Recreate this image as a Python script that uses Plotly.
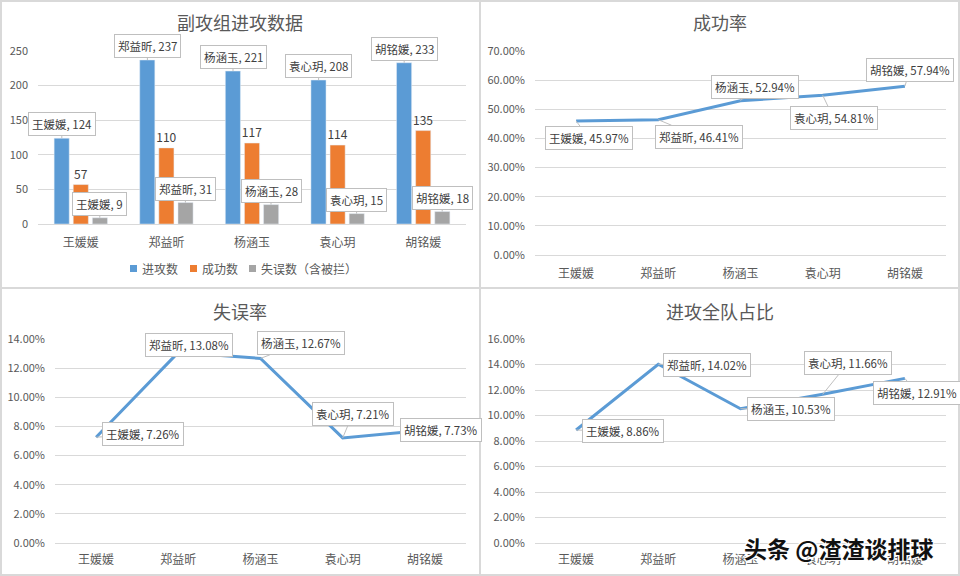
import plotly.graph_objects as go

players = ["王媛媛", "郑益昕", "杨涵玉", "袁心玥", "胡铭媛"]
attacks = [124, 237, 221, 208, 233]
successes = [57, 110, 117, 114, 135]
errors = [9, 31, 28, 15, 18]
success_rate = [45.97, 46.41, 52.94, 54.81, 57.94]
error_rate = [7.26, 13.08, 12.67, 7.21, 7.73]
attack_share = [8.86, 14.02, 10.53, 11.66, 12.91]

series_names = ["进攻数", "成功数", "失误数（含被拦）"]
titles = ["副攻组进攻数据", "成功率", "失误率", "进攻全队占比"]

FONT = "Noto Sans CJK SC, Microsoft YaHei, sans-serif"
BLUE, ORANGE, GRAY = "#5B9BD5", "#ED7D31", "#A5A5A5"
COLORS = [BLUE, ORANGE, GRAY]
TXT = "#595959"
GRID = "#d9d9d9"

W, H = 960, 576
def px(x): return x / W
def py(y): return 1 - y / H

fig = go.Figure()

# --- panel 1: grouped bars
fig.add_trace(go.Bar(x=players, y=attacks, name=series_names[0], marker_color=BLUE,
                     xaxis="x", yaxis="y"))
fig.add_trace(go.Bar(x=players, y=successes, name=series_names[1], marker_color=ORANGE,
                     texttemplate="%{y}", textposition="outside", constraintext="none",
                     textfont=dict(family=FONT, size=12, color="#404040"), cliponaxis=False,
                     xaxis="x", yaxis="y"))
fig.add_trace(go.Bar(x=players, y=errors, name=series_names[2], marker_color=GRAY,
                     xaxis="x", yaxis="y"))

# --- line panels
line_sets = [(success_rate, "x2", "y2"), (error_rate, "x3", "y3"), (attack_share, "x4", "y4")]
for vals, xa, ya in line_sets:
    fig.add_trace(go.Scatter(x=players, y=vals, mode="lines", showlegend=False,
                             line=dict(color=BLUE, width=3), xaxis=xa, yaxis=ya))

annotations = []

def callout(xref, yref, x, y, text, ax, ay, xshift=0):
    annotations.append(dict(
        xref=xref, yref=yref, x=x, y=y, text=text, showarrow=True,
        ax=ax, ay=ay, xshift=xshift, arrowhead=0, arrowwidth=1, arrowcolor="#bfbfbf",
        bgcolor="white", bordercolor="#bfbfbf", borderwidth=1, borderpad=3,
        font=dict(family=FONT, size=11.5, color="#404040")))

# bar callouts (blue & gray)
for p, v in zip(players, attacks):
    callout("x", "y", p, v, f"{p}, {v}", 0, -14, xshift=-19)
for p, v in zip(players, errors):
    callout("x", "y", p, v, f"{p}, {v}", 0, -14, xshift=19)

# line callouts
off2 = [(13, 17), (41, 17), (14, -14), (11, 23), (5, -16)]
off3 = [(47, -3), (11, -7), (40, -15), (10, -24), (16, 0)]
off4 = [(47, 1), (49, 1), (50, 0), (25, -31), (12, 15)]
for (vals, xa, ya), offs in zip(line_sets, [off2, off3, off4]):
    for p, v, (ox, oy) in zip(players, vals, offs):
        callout(xa, ya, p, v, f"{p}, {v:.2f}%", ox, oy)

# titles
title_pos = [(240, 22), (720, 22), (240, 311), (720, 311)]
for t, (tx, ty) in zip(titles, title_pos):
    annotations.append(dict(xref="paper", yref="paper", x=px(tx), y=py(ty), text=t,
                            showarrow=False, xanchor="center", yanchor="middle",
                            font=dict(family=FONT, size=18, color=TXT)))

shapes = []

# legend for panel 1 (squares + text)
legend_x = [130, 190, 249]
for name, col, lx in zip(series_names, COLORS, legend_x):
    shapes.append(dict(type="rect", xref="paper", yref="paper",
                       x0=px(lx), x1=px(lx + 7), y0=py(272), y1=py(265),
                       fillcolor=col, line=dict(width=0)))
    annotations.append(dict(xref="paper", yref="paper", x=px(lx + 10), y=py(268.5), text=name,
                            showarrow=False, xanchor="left", yanchor="middle",
                            font=dict(family=FONT, size=12, color=TXT)))

# watermark
annotations.append(dict(xref="paper", yref="paper", x=px(838), y=py(548), text="头条 @渣渣谈排球",
                        showarrow=False, xanchor="center", yanchor="middle",
                        font=dict(family=FONT, size=23, color="#111111", weight=700,
                                  shadow="-1px -1px 0 #fff, 1px 1px 0 #fff, 1px -1px 0 #fff, -1px 1px 0 #fff")))

# panel borders
for (x0, y0, x1, y1) in [(1, 1, 480, 288), (480, 1, 959, 288), (1, 288, 480, 575), (480, 288, 959, 575)]:
    shapes.append(dict(type="rect", xref="paper", yref="paper", x0=px(x0), x1=px(x1),
                       y0=py(y1), y1=py(y0), line=dict(color=GRID, width=2), layer="below"))

def xaxis(domain, anchor, standoff):
    return dict(domain=domain, anchor=anchor, range=[-0.5, len(players) - 0.5],
                showgrid=False, showline=False, ticks="",
                automargin=False, ticklabelstandoff=standoff,
                tickfont=dict(family=FONT, size=12, color=TXT), fixedrange=True)

def yaxis(domain, anchor, rng, dtick, pct):
    d = dict(domain=domain, anchor=anchor, range=rng, dtick=dtick, showgrid=True,
             gridcolor=GRID, gridwidth=1, zeroline=True, zerolinecolor=GRID, zerolinewidth=1,
             showline=False, ticks="", automargin=False, fixedrange=True,
             ticklabelstandoff=9,
             tickfont=dict(family=FONT, size=11, color=TXT))
    if pct:
        d.update(tickformat=".2f", ticksuffix="%")
    return d

fig.update_layout(
    width=W, height=H, margin=dict(l=0, r=0, t=0, b=0, autoexpand=False),
    paper_bgcolor="white", plot_bgcolor="white",
    font=dict(family=FONT, color=TXT),
    barmode="group", bargap=0.33, bargroupgap=0.21,
    xaxis=xaxis([px(38), px(466)], "y", 10),
    yaxis=yaxis([py(224), py(51)], "x", [0, 250], 50, False),
    xaxis2=xaxis([px(535), px(946)], "y2", 10),
    yaxis2=yaxis([py(255), py(51)], "x2", [0, 70], 10, True),
    xaxis3=xaxis([px(55), px(466)], "y3", 8),
    yaxis3=yaxis([py(543), py(339)], "x3", [0, 14], 2, True),
    xaxis4=xaxis([px(535), px(946)], "y4", 8),
    yaxis4=yaxis([py(543), py(339)], "x4", [0, 16], 2, True),
    annotations=annotations, shapes=shapes, showlegend=False,
)

fig.write_html("out.html", config={"displayModeBar": False},
               post_script="document.body.style.margin='0';document.body.style.overflow='hidden';")
